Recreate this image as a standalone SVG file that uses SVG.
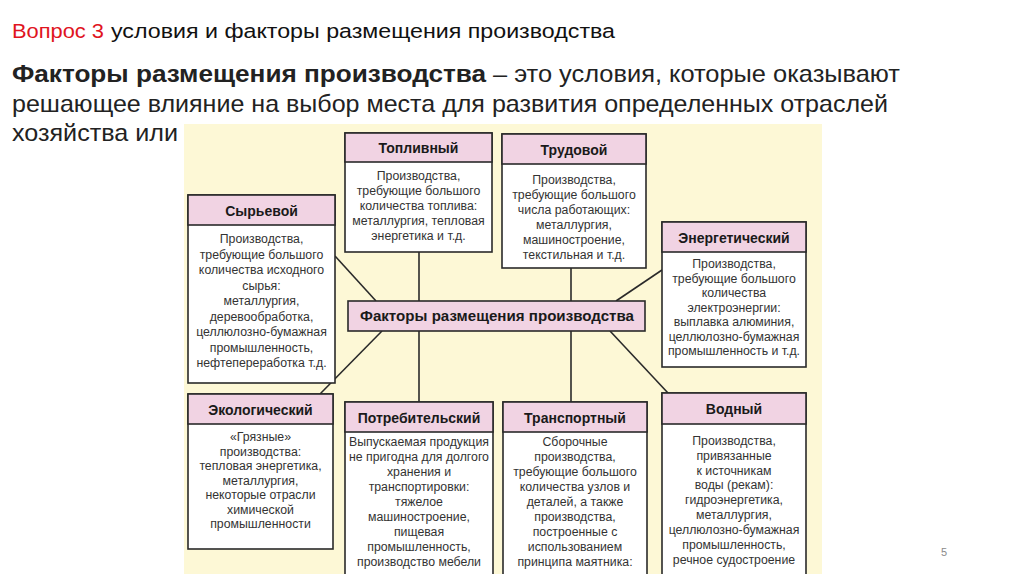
<svg xmlns="http://www.w3.org/2000/svg" width="1024" height="574" viewBox="0 0 1024 574">
<style>
.t{font-family:"Liberation Sans",Arial,sans-serif}
.box{fill:#ffffff;stroke:#2a2a2a;stroke-width:1.6}
.hd{fill:#f1d3e3;stroke:#2a2a2a;stroke-width:1.6}
.h{font-family:"Liberation Sans",Arial,sans-serif;font-weight:bold;font-size:14px;fill:#1a1a1a;text-anchor:middle}
.b{font-family:"Liberation Sans",Arial,sans-serif;font-size:12.3px;fill:#333;text-anchor:middle}
.ln{stroke:#2a2a2a;stroke-width:1.6;fill:none}
</style>
<rect width="1024" height="574" fill="#ffffff"/>
<g id="title">
<text class="t" x="12" y="38" font-size="20.5" fill="#e0141e" textLength="92" lengthAdjust="spacingAndGlyphs">Вопрос 3</text>
<text class="t" x="111" y="38" font-size="20.5" fill="#111" textLength="504" lengthAdjust="spacingAndGlyphs">условия и факторы размещения производства</text>
</g>
<g id="definition">
<text class="t" x="12" y="82" font-size="24" font-weight="bold" fill="#222" textLength="474" lengthAdjust="spacingAndGlyphs">Факторы размещения производства</text>
<text class="t" x="493" y="82" font-size="24" fill="#222" textLength="407" lengthAdjust="spacingAndGlyphs">– это условия, которые оказывают</text>
<text class="t" x="12" y="112" font-size="24" fill="#222" textLength="876" lengthAdjust="spacingAndGlyphs">решающее влияние на выбор места для развития определенных отраслей</text>
<text class="t" x="12" y="141" font-size="24" fill="#222" textLength="166" lengthAdjust="spacingAndGlyphs">хозяйства или</text>
</g>
<rect id="panel" x="184" y="124" width="638" height="450" fill="#fdf8d6"/>
<g id="connectors">
<line class="ln" x1="419" y1="252" x2="419" y2="301"/>
<line class="ln" x1="571" y1="268" x2="571" y2="301"/>
<line class="ln" x1="335" y1="256" x2="376" y2="301"/>
<line class="ln" x1="662" y1="270" x2="616" y2="301"/>
<line class="ln" x1="382" y1="331" x2="320" y2="394"/>
<line class="ln" x1="610" y1="331" x2="668" y2="393"/>
<line class="ln" x1="419" y1="331" x2="419" y2="402"/>
<line class="ln" x1="571" y1="331" x2="571" y2="402"/>
</g>
<g id="center">
<rect class="hd" x="348" y="301" width="297" height="30"/>
<text class="h" x="497" y="321" font-size="14.5" textLength="274" lengthAdjust="spacingAndGlyphs">Факторы размещения производства</text>
</g>
<g id="toplivny">
<rect class="box" x="345" y="133" width="147" height="119"/>
<rect class="hd" x="345" y="133" width="147" height="29"/>
<text class="h" x="418.5" y="153">Топливный</text>
<text class="b" x="418.5" y="180">Производства,</text>
<text class="b" x="418.5" y="195">требующие большого</text>
<text class="b" x="418.5" y="210">количества топлива:</text>
<text class="b" x="418.5" y="225">металлургия, тепловая</text>
<text class="b" x="418.5" y="240">энергетика и т.д.</text>
</g>
<g id="trudovoy">
<rect class="box" x="502" y="134" width="144" height="134"/>
<rect class="hd" x="502" y="134" width="144" height="30"/>
<text class="h" x="574" y="155">Трудовой</text>
<text class="b" x="574" y="184">Производства,</text>
<text class="b" x="574" y="199">требующие большого</text>
<text class="b" x="574" y="214">числа работающих:</text>
<text class="b" x="574" y="229">металлургия,</text>
<text class="b" x="574" y="244">машиностроение,</text>
<text class="b" x="574" y="259">текстильная и т.д.</text>
</g>
<g id="syrievoy">
<rect class="box" x="188" y="195" width="147" height="188"/>
<rect class="hd" x="188" y="195" width="147" height="30"/>
<text class="h" x="261.5" y="216">Сырьевой</text>
<text class="b" x="261.5" y="243">Производства,</text>
<text class="b" x="261.5" y="258.5">требующие большого</text>
<text class="b" x="261.5" y="274">количества исходного</text>
<text class="b" x="261.5" y="289.5">сырья:</text>
<text class="b" x="261.5" y="305">металлургия,</text>
<text class="b" x="261.5" y="320.5">деревообработка,</text>
<text class="b" x="261.5" y="336">целлюлозно-бумажная</text>
<text class="b" x="261.5" y="351.5">промышленность,</text>
<text class="b" x="261.5" y="367">нефтепереработка т.д.</text>
</g>
<g id="energetichesky">
<rect class="box" x="662" y="222" width="144" height="145"/>
<rect class="hd" x="662" y="222" width="144" height="30"/>
<text class="h" x="734" y="243">Энергетический</text>
<text class="b" x="734" y="268">Производства,</text>
<text class="b" x="734" y="282.5">требующие большого</text>
<text class="b" x="734" y="297">количества</text>
<text class="b" x="734" y="311.5">электроэнергии:</text>
<text class="b" x="734" y="326">выплавка алюминия,</text>
<text class="b" x="734" y="340.5">целлюлозно-бумажная</text>
<text class="b" x="734" y="355">промышленность и т.д.</text>
</g>
<g id="ekologichesky">
<rect class="box" x="188" y="394" width="145" height="155"/>
<rect class="hd" x="188" y="394" width="145" height="30"/>
<text class="h" x="260.5" y="415">Экологический</text>
<text class="b" x="260.5" y="441">«Грязные»</text>
<text class="b" x="260.5" y="455.5">производства:</text>
<text class="b" x="260.5" y="470">тепловая энергетика,</text>
<text class="b" x="260.5" y="484.5">металлургия,</text>
<text class="b" x="260.5" y="499">некоторые отрасли</text>
<text class="b" x="260.5" y="513.5">химической</text>
<text class="b" x="260.5" y="528">промышленности</text>
</g>
<g id="potrebitelsky">
<rect class="box" x="345" y="402" width="148" height="180"/>
<rect class="hd" x="345" y="402" width="148" height="30"/>
<text class="h" x="419" y="423">Потребительский</text>
<text class="b" x="419" y="446">Выпускаемая продукция</text>
<text class="b" x="419" y="461">не пригодна для долгого</text>
<text class="b" x="419" y="476">хранения и</text>
<text class="b" x="419" y="491">транспортировки:</text>
<text class="b" x="419" y="506">тяжелое</text>
<text class="b" x="419" y="521">машиностроение,</text>
<text class="b" x="419" y="536">пищевая</text>
<text class="b" x="419" y="551">промышленность,</text>
<text class="b" x="419" y="566">производство мебели</text>
</g>
<g id="transportny">
<rect class="box" x="503" y="402" width="144" height="180"/>
<rect class="hd" x="503" y="402" width="144" height="30"/>
<text class="h" x="575" y="423">Транспортный</text>
<text class="b" x="575" y="446">Сборочные</text>
<text class="b" x="575" y="461">производства,</text>
<text class="b" x="575" y="476">требующие большого</text>
<text class="b" x="575" y="491">количества узлов и</text>
<text class="b" x="575" y="506">деталей, а также</text>
<text class="b" x="575" y="521">производства,</text>
<text class="b" x="575" y="536">построенные с</text>
<text class="b" x="575" y="551">использованием</text>
<text class="b" x="575" y="566">принципа маятника:</text>
</g>
<g id="vodny">
<rect class="box" x="662" y="393" width="144" height="190"/>
<rect class="hd" x="662" y="393" width="144" height="31"/>
<text class="h" x="734" y="414">Водный</text>
<text class="b" x="734" y="445">Производства,</text>
<text class="b" x="734" y="460">привязанные</text>
<text class="b" x="734" y="474.5">к источникам</text>
<text class="b" x="734" y="489">воды (рекам):</text>
<text class="b" x="734" y="504">гидроэнергетика,</text>
<text class="b" x="734" y="519">металлургия,</text>
<text class="b" x="734" y="534">целлюлозно-бумажная</text>
<text class="b" x="734" y="549">промышленность,</text>
<text class="b" x="734" y="564">речное судостроение</text>
</g>
<text id="pagenum" class="t" x="944" y="556" font-size="11" fill="#8a8a8a" text-anchor="middle">5</text>
</svg>
